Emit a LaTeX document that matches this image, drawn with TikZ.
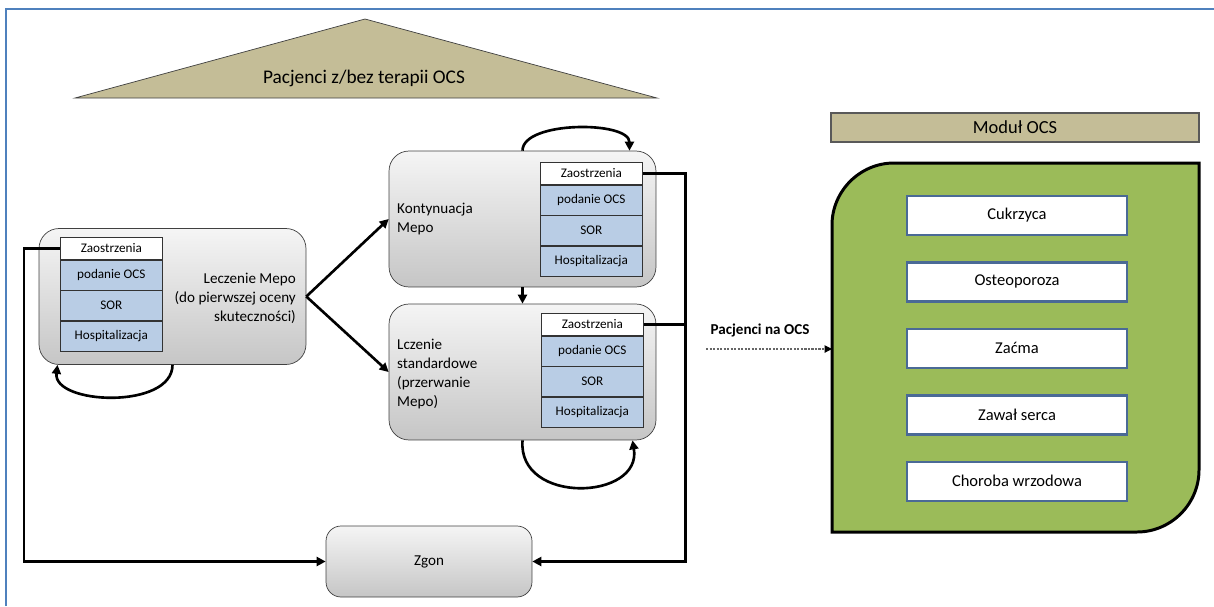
\documentclass[tikz,border=0pt]{standalone}
\usepackage{fontspec}
\setmainfont{Carlito}
\usetikzlibrary{positioning,arrows.meta}
\definecolor{ocstan}{HTML}{C4BD97}
\definecolor{cellblue}{HTML}{B9CDE5}
\definecolor{ocsgreen}{HTML}{9BBB59}
\definecolor{frameblue}{HTML}{4F81BD}
\definecolor{boxblue}{HTML}{4A6A96}
\newcommand{\cellsize}{\fontsize{7.5}{9}\selectfont}
\newcommand{\labelsize}{\fontsize{8.6}{10.8}\selectfont}

\begin{document}
\begin{tikzpicture}[x=0.02cm, y=-0.02cm, node distance=0pt,
    state/.style={draw=gray!50!black, rounded corners=0.4cm, top color=gray!8, bottom color=gray!45, minimum width=5.34cm, minimum height=2.72cm},
    head/.style={draw=black!80, fill=white, minimum width=2.04cm, minimum height=0.44cm, inner sep=0pt, font=\cellsize},
    cell/.style={draw=black!80, fill=cellblue, minimum width=2.04cm, minimum height=0.6cm, inner sep=0pt, font=\cellsize},
    flow/.style={-{Triangle[length=1.8mm,width=1.8mm]}, line width=1.5pt},
    effect/.style={draw=boxblue, line width=1.4pt, fill=white, minimum width=4.4cm, minimum height=0.78cm, font=\fontsize{9.4}{11}\selectfont}]
    \useasboundingbox (0,0) rectangle (1214,606);
    \draw[frameblue, line width=1.3pt] (6,606) -- (6,9) -- (1214,9);

    % header
    \draw[draw=black!75, fill=ocstan] (75,98) -- (365,19) -- (657,98) -- cycle;
    \node[font=\fontsize{11}{13}\selectfont] (title) at (364,78) {Pacjenci z/bez terapii OCS};

    % states
    \node[state] (leczenie) at (172.5,296.5) {};
    \node[state] (kontyn) at (522.5,219) {};
    \node[state] (standard) at (522.5,372) {};
    \node[state, minimum width=4.12cm, minimum height=1.42cm, rounded corners=0.3cm, font=\labelsize] (zgon) at (429,561.5) {Zgon};

    \node[font=\labelsize, align=right, anchor=east] (lczlabel) at (302,298) {Leczenie Mepo\\(do pierwszej oceny\\skuteczności)};
    \node[font=\labelsize, align=left, anchor=west] (kontlabel) at (391,219) {Kontynuacja\\Mepo};
    \node[font=\labelsize, align=left, anchor=west] (stdlabel) at (391,374) {Lczenie\\standardowe\\(przerwanie\\Mepo)};

    % event stacks
    \node[head, anchor=north west] (lz1) at (60,237) {Zaostrzenia};
    \node[cell, below=of lz1] (lz2) {podanie OCS};
    \node[cell, below=of lz2] (lz3) {SOR};
    \node[cell, below=of lz3] (lz4) {Hospitalizacja};

    \node[head, anchor=north west] (kz1) at (540,162) {Zaostrzenia};
    \node[cell, below=of kz1] (kz2) {podanie OCS};
    \node[cell, below=of kz2] (kz3) {SOR};
    \node[cell, below=of kz3] (kz4) {Hospitalizacja};

    \node[head, anchor=north west] (sz1) at (541,313) {Zaostrzenia};
    \node[cell, below=of sz1] (sz2) {podanie OCS};
    \node[cell, below=of sz2] (sz3) {SOR};
    \node[cell, below=of sz3] (sz4) {Hospitalizacja};

    % transitions
    \draw[flow] (leczenie.east) -- (kontyn.west);
    \draw[flow] (leczenie.east) -- (standard.west);
    \draw[flow] (kontyn.south) -- (standard.north);
    \draw[flow] (kontyn.north) .. controls +(0,-30) and +(0,-30) .. ([xshift=2.14cm]kontyn.north);
    \draw[flow] (standard.south) .. controls +(-5,65) and +(10,60) .. ([xshift=2.2cm]standard.south);
    \draw[flow] (leczenie.south) .. controls +(0,45) and +(-5,40) .. ([xshift=-2.3cm]leczenie.south);
    \draw[flow] (lz1.west) -- ++(-36,0) |- (zgon.west);
    \draw[flow] (kz1.east) -- ++(43,0) |- (zgon.east);
    \draw[line width=1.5pt] (sz1.east) -- ++(42,0);

    % OCS module
    \node[draw=gray!70!black, line width=1pt, fill=ocstan, minimum width=7.36cm, minimum height=0.58cm, inner sep=0pt, font=\fontsize{10.5}{12}\selectfont] (modul) at (1015,127.5) {Moduł OCS};
    \draw[fill=ocsgreen, line width=1.7pt] (832,532) -- (832,225) .. controls (832,191) and (860,163) .. (894,163) -- (1199,163) -- (1199,470) .. controls (1199,504) and (1171,532) .. (1137,532) -- cycle;
    \node[effect] (cukrzyca) at (1017,215.5) {Cukrzyca};
    \node[effect, below=0.5cm of cukrzyca] (osteo) {Osteoporoza};
    \node[effect, below=0.5cm of osteo] (zacma) {Zaćma};
    \node[effect, below=0.5cm of zacma] (zawal) {Zawał serca};
    \node[effect, below=0.5cm of zawal] (wrzod) {Choroba wrzodowa};

    \node[font=\bfseries\labelsize] (naocs) at (760,330) {Pacjenci na OCS};
    \coordinate (ocsstart) at (706,349);
    \coordinate (ocsin) at (832,349);
    \draw[dash pattern=on 1.2pt off 0.8pt, gray!80!black, line width=0.6pt, -{Triangle[length=1.5mm,width=1.5mm,color=black]}] (ocsstart) -- (ocsin);
\end{tikzpicture}
\end{document}
